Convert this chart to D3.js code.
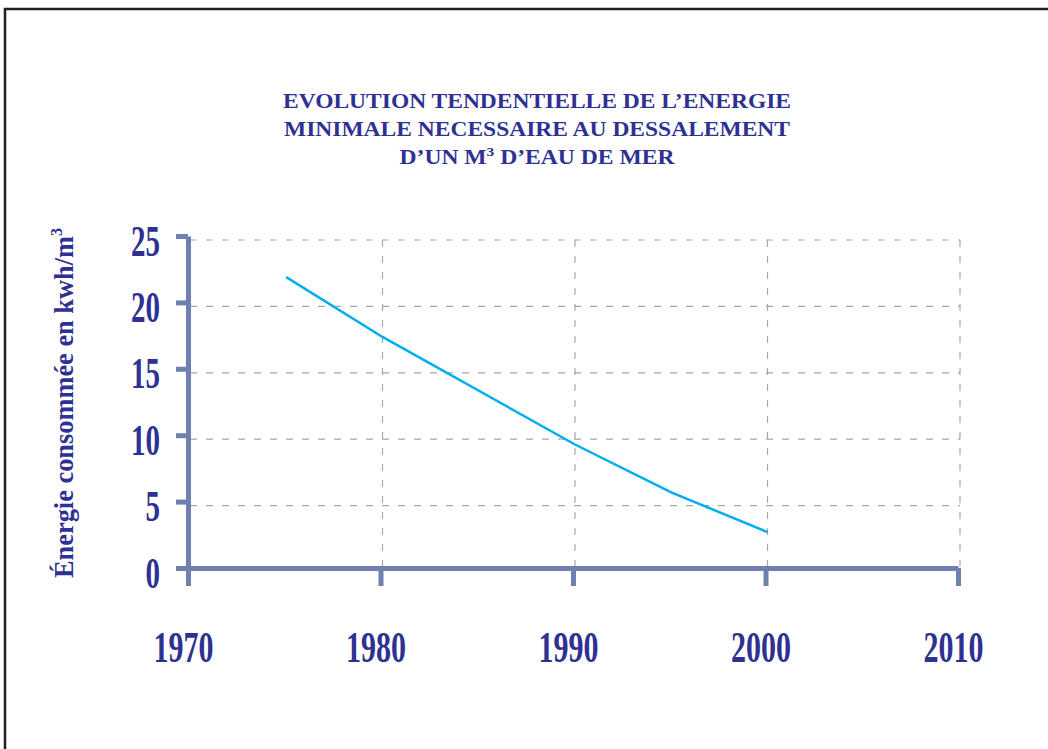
<!DOCTYPE html>
<html>
<head>
<meta charset="utf-8">
<script src="https://cdn.jsdelivr.net/npm/d3@7"></script>
<style>
  html, body { margin: 0; padding: 0; background: #ffffff; }
  svg { display: block; }
</style>
</head>
<body>
<svg id="chart" width="1048" height="749"></svg>
<script>
// Minimum energy needed to desalinate one cubic metre of sea water (kWh/m3)
const years = [1975, 1980, 1990, 1995, 2000];
const energy = [22.2, 17.7, 9.6, 6.0, 3.0];

const xTicks = [1970, 1980, 1990, 2000, 2010];
const yTicks = [0, 5, 10, 15, 20, 25];

const titleLines = [
  "EVOLUTION TENDENTIELLE DE L\u2019ENERGIE",
  "MINIMALE NECESSAIRE AU DESSALEMENT"
];
const yTitle = "\u00C9nergie consomm\u00E9e en kwh/m";

const ink = "#2e3192";
const axisColor = "#6f7fb0";
const gridColor = "#a6a8ab";
const serif = "'Liberation Serif', 'Times New Roman', serif";

const svg = d3.select("#chart");

// page frame
svg.append("path")
  .attr("d", "M5,749 V9 H1048")
  .attr("fill", "none")
  .attr("stroke", "#231f20")
  .attr("stroke-width", 2.5);

const x = d3.scaleLinear().domain([1970, 2010]).range([190, 960]);
const y = d3.scaleLinear().domain([0, 25]).range([572, 240]);

// title
const title = svg.append("g")
  .attr("font-family", serif)
  .attr("font-weight", "bold")
  .attr("font-size", 20)
  .attr("fill", ink)
  .attr("text-anchor", "middle");
const titleWidths = [508, 506];
titleLines.forEach((t, i) => {
  title.append("text")
    .attr("x", 537)
    .attr("y", 108 + i * 28)
    .attr("textLength", titleWidths[i])
    .attr("lengthAdjust", "spacingAndGlyphs")
    .text(t);
});
const t3 = title.append("text").attr("x", 537).attr("y", 164)
  .attr("textLength", 275).attr("lengthAdjust", "spacingAndGlyphs");
t3.append("tspan").text("D\u2019UN M");
t3.append("tspan").attr("font-size", 13).attr("dy", -8).text("3");
t3.append("tspan").attr("dy", 8).text(" D\u2019EAU DE MER");

// dashed grid
const grid = svg.append("g")
  .attr("stroke", gridColor)
  .attr("stroke-width", 1.2)
  .attr("stroke-dasharray", "7,9");
grid.selectAll("line.h")
  .data(yTicks.filter(d => d > 0))
  .join("line")
  .attr("class", "h")
  .attr("x1", x(1970)).attr("x2", x(2010))
  .attr("y1", d => y(d)).attr("y2", d => y(d));
grid.selectAll("line.v")
  .data(xTicks.filter(d => d > 1970))
  .join("line")
  .attr("class", "v")
  .attr("x1", d => x(d)).attr("x2", d => x(d))
  .attr("y1", y(25)).attr("y2", y(0) - 6);

// axes
function styleAxis(g) {
  g.select(".domain").attr("stroke", axisColor).attr("stroke-width", 5);
  g.selectAll(".tick line").attr("stroke", axisColor).attr("stroke-width", 5);
  g.selectAll(".tick text")
    .attr("fill", ink)
    .attr("font-family", serif)
    .attr("font-weight", "bold")
    .attr("font-size", 44)
    .attr("lengthAdjust", "spacingAndGlyphs");
}

const yAxis = svg.append("g")
  .attr("transform", `translate(${x(1970) - 2},-4)`)
  .call(d3.axisLeft(y).tickValues(yTicks).tickSize(12).tickSizeOuter(0)
    .tickPadding(16).tickFormat(d3.format("d")));
styleAxis(yAxis);
yAxis.selectAll(".tick text")
  .attr("dy", 19)
  .attr("textLength", d => String(d).length * 14.5);

const xAxis = svg.append("g")
  .attr("transform", `translate(-2,${y(0) - 4})`)
  .call(d3.axisBottom(x).tickValues(xTicks).tickSize(18).tickSizeOuter(0)
    .tickFormat(d3.format("d")));
styleAxis(xAxis);
xAxis.selectAll(".tick text")
  .attr("x", -5)
  .attr("y", 94)
  .attr("dy", 0)
  .attr("textLength", 60);

// y axis title
const yt = svg.append("text")
  .attr("transform", "translate(73,403) rotate(-90)")
  .attr("text-anchor", "middle")
  .attr("font-family", serif)
  .attr("font-weight", "bold")
  .attr("font-size", 28)
  .attr("fill", ink)
  .attr("textLength", 350)
  .attr("lengthAdjust", "spacingAndGlyphs");
yt.append("tspan").text(yTitle);
yt.append("tspan").attr("font-size", 17).attr("dy", -11).text("3");

// trend line
const line = d3.line()
  .x((d, i) => x(years[i]))
  .y(d => y(d));
svg.append("path")
  .datum(energy)
  .attr("fill", "none")
  .attr("stroke", "#00aeef")
  .attr("stroke-width", 2.5)
  .attr("d", line);
</script>
</body>
</html>
